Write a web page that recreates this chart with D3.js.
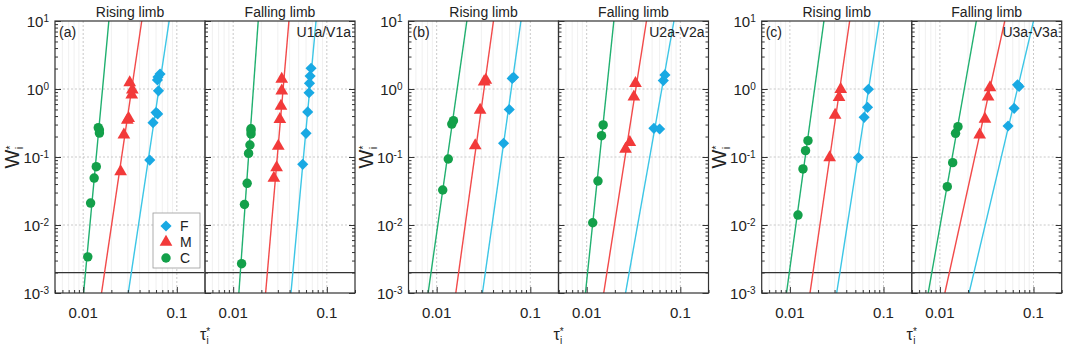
<!DOCTYPE html>
<html>
<head>
<meta charset="utf-8">
<script src="https://cdn.jsdelivr.net/npm/d3@7"></script>
<style>
  body { margin: 0; background: #fff; }
  text { font-family: "Liberation Sans", Arial, sans-serif; fill: #222; }
</style>
</head>
<body>
<svg width="1065" height="354"></svg>
<script>
// ---- data ----
var groupTags = ["(a)", "(b)", "(c)"];
var stationTags = ["U1a/V1a", "U2a-V2a", "U3a-V3a"];
var limbNames = ["Rising limb", "Falling limb"];
var classes = ["F", "M", "C"];
var wRange = [1e-3, 10];          // W* at which fitted lines enter/leave
var thresholdW = 0.002;
var xTicks = [0.01, 0.1];
var yTicks = [1e-3, 1e-2, 1e-1, 1, 10];

// tau* where each fit line crosses W*=1e-3 and W*=10  [group][limb][class]
var fitLines = [
  [ { F: [0.0303, 0.0828], M: [0.0157, 0.0422], C: [0.0101, 0.0188] },
    { F: [0.0414, 0.0767], M: [0.0222, 0.0394], C: [0.0115, 0.0185] } ],
  [ { F: [0.0308, 0.0794], M: [0.0160, 0.0404], C: [0.0081, 0.0210] },
    { F: [0.0260, 0.0855], M: [0.0152, 0.0435], C: [0.0097, 0.0195] } ],
  [ { F: [0.0316, 0.0900], M: [0.0164, 0.0435], C: [0.0092, 0.0231] },
    { F: [0.0205, 0.1000], M: [0.0113, 0.0493], C: [0.0075, 0.0245] } ]
];

// observed points [tau*, W*]
var aRiseF = [[0.0514, 0.090], [0.0557, 0.32], [0.0600, 0.45], [0.0625, 0.43], [0.0637, 0.94], [0.0621, 1.36], [0.0630, 1.50], [0.0662, 1.66]];
var aRiseM = [[0.0251, 0.061], [0.0272, 0.211], [0.0296, 0.35], [0.0306, 0.37], [0.0330, 0.82], [0.0335, 0.97], [0.0314, 1.24]];
var aRiseC = [[0.0112, 0.0034], [0.0120, 0.021], [0.0131, 0.049], [0.0138, 0.072], [0.0145, 0.27], [0.0149, 0.225], [0.0149, 0.25]];
var aFallF = [[0.0679, 2.02], [0.0663, 1.55], [0.0653, 1.21], [0.0646, 0.88], [0.0625, 0.46], [0.0600, 0.223], [0.0553, 0.078]];
var aFallM = [[0.0330, 1.40], [0.0330, 0.94], [0.0324, 0.56], [0.0315, 0.358], [0.0303, 0.145], [0.0291, 0.070], [0.0272, 0.049]];
var aFallC = [[0.0123, 0.0027], [0.0132, 0.020], [0.0141, 0.041], [0.0146, 0.113], [0.0151, 0.15], [0.0155, 0.218], [0.0155, 0.244], [0.0155, 0.26]];

var bRiseF = [[0.0518, 0.159], [0.0596, 0.50], [0.0663, 1.49], [0.0640, 1.43]];
var bRiseM = [[0.0258, 0.147], [0.0291, 0.49], [0.0321, 1.28], [0.0335, 1.35]];
var bRiseC = [[0.0116, 0.0327], [0.0133, 0.0935], [0.0145, 0.305], [0.0151, 0.342]];
var bFallF = [[0.0522, 0.264], [0.0601, 0.258], [0.0658, 1.33], [0.0685, 1.61]];
var bFallM = [[0.0260, 0.131], [0.0289, 0.164], [0.0319, 0.77], [0.0332, 1.21]];
var bFallC = [[0.0116, 0.0108], [0.0132, 0.0444], [0.0144, 0.206], [0.0150, 0.296]];

var cRiseF = [[0.0540, 0.098], [0.0621, 0.383], [0.0675, 0.537], [0.0690, 0.99]];
var cRiseM = [[0.0266, 0.098], [0.0304, 0.415], [0.0335, 0.753], [0.0349, 0.99]];
var cRiseC = [[0.0122, 0.0140], [0.0138, 0.0667], [0.0147, 0.124], [0.0156, 0.174]];
var cFallF = [[0.0535, 0.286], [0.0621, 0.52], [0.0675, 1.15], [0.0702, 1.09]];
var cFallM = [[0.0266, 0.211], [0.0303, 0.362], [0.0327, 0.77], [0.0343, 1.05]];
var cFallC = [[0.0120, 0.0366], [0.0137, 0.0826], [0.0147, 0.223], [0.0156, 0.279]];

var points = [
  [ { F: aRiseF, M: aRiseM, C: aRiseC }, { F: aFallF, M: aFallM, C: aFallC } ],
  [ { F: bRiseF, M: bRiseM, C: bRiseC }, { F: bFallF, M: bFallM, C: bFallC } ],
  [ { F: cRiseF, M: cRiseM, C: cRiseC }, { F: cFallF, M: cFallM, C: cFallC } ]
];

// ---- styles ----
var markColor = { F: "#19a9e3", M: "#f23a3a", C: "#13a04a" };
var lineColor = { F: "#3cc6e6", M: "#f24a4a", C: "#20b070" };
var symbolType = { F: d3.symbolSquare, M: d3.symbolTriangle, C: d3.symbolCircle };
var symbolSize = { F: 62, M: 70, C: 70 };
var symbolRot = { F: 45, M: 0, C: 0 };

var svg = d3.select("svg");
var groupLeft = [55, 408.5, 761.7],
    panelW = 150,
    plotTop = 21, plotBottom = 293;

var x = d3.scaleLog().domain([0.005, 0.2]).range([0, panelW]);
var y = d3.scaleLog().domain([1e-3, 10]).range([plotBottom, plotTop]);

function supLabel(sel, exp) {
  sel.append("tspan").text("10");
  sel.append("tspan").attr("dy", "-0.55em").attr("font-size", "10px").text(exp);
}

groupLeft.forEach(function(gx, gi) {
  var grp = svg.append("g").attr("transform", "translate(" + gx + ",0)");

  // y tick labels
  yTicks.forEach(function(t) {
    var e = Math.round(Math.log10(t));
    var tx = grp.append("text")
      .attr("x", -6).attr("y", y(t) + 6)
      .attr("text-anchor", "end")
      .attr("font-size", "15px");
    supLabel(tx, e);
  });

  // y axis label
  var yl = grp.append("text")
    .attr("transform", "translate(-36," + (plotTop + plotBottom) / 2 + ") rotate(-90)")
    .attr("text-anchor", "middle")
    .attr("font-size", "20px");
  yl.append("tspan").text("W");
  yl.append("tspan").attr("dy", "-0.5em").attr("font-size", "11px").text("*");
  yl.append("tspan").attr("dy", "0.9em").attr("dx", "-0.35em").attr("font-size", "11px").text("i");

  // x axis label
  var xl = grp.append("text")
    .attr("x", panelW).attr("y", 340)
    .attr("text-anchor", "middle")
    .attr("font-size", "16px");
  xl.append("tspan").text("\u03c4");
  xl.append("tspan").attr("dy", "-0.55em").attr("font-size", "10px").text("*");
  xl.append("tspan").attr("dy", "0.95em").attr("dx", "-0.35em").attr("font-size", "10px").text("i");

  limbNames.forEach(function(limb, li) {
    var p = grp.append("g").attr("transform", "translate(" + (li * panelW) + ",0)");
    var clipId = "clip" + gi + "_" + li;
    p.append("clipPath").attr("id", clipId)
      .append("rect").attr("x", 0).attr("y", plotTop).attr("width", panelW).attr("height", plotBottom - plotTop);

    // minor vertical grid
    var minor = x.ticks().filter(function(t) { return xTicks.indexOf(t) < 0; });
    p.append("g").selectAll("line").data(minor).enter().append("line")
      .attr("x1", function(d) { return x(d); }).attr("x2", function(d) { return x(d); })
      .attr("y1", plotTop).attr("y2", plotBottom)
      .attr("stroke", "#ececec").attr("stroke-width", 0.8);
    // major dotted grid
    p.append("g").selectAll("line").data(xTicks).enter().append("line")
      .attr("x1", function(d) { return x(d); }).attr("x2", function(d) { return x(d); })
      .attr("y1", plotTop).attr("y2", plotBottom)
      .attr("stroke", "#bbb").attr("stroke-dasharray", "2,2").attr("stroke-width", 0.8);
    p.append("g").selectAll("line").data(yTicks.slice(1, -1)).enter().append("line")
      .attr("x1", 0).attr("x2", panelW)
      .attr("y1", function(d) { return y(d); }).attr("y2", function(d) { return y(d); })
      .attr("stroke", "#bbb").attr("stroke-dasharray", "2,2").attr("stroke-width", 0.8);

    // threshold line
    p.append("line")
      .attr("x1", 0).attr("x2", panelW)
      .attr("y1", y(thresholdW)).attr("y2", y(thresholdW))
      .attr("stroke", "#333").attr("stroke-width", 1.3);

    // fit lines
    var fits = fitLines[gi][li];
    var lg = p.append("g").attr("clip-path", "url(#" + clipId + ")");
    classes.forEach(function(c) {
      lg.append("line")
        .attr("x1", x(fits[c][0])).attr("y1", y(wRange[0]))
        .attr("x2", x(fits[c][1])).attr("y2", y(wRange[1]))
        .attr("stroke", lineColor[c]).attr("stroke-width", 1.4);
    });

    // points
    var pts = points[gi][li];
    ["C", "M", "F"].forEach(function(c) {
      p.append("g").selectAll("path").data(pts[c]).enter().append("path")
        .attr("d", d3.symbol().type(symbolType[c]).size(symbolSize[c]))
        .attr("transform", function(d) {
          return "translate(" + x(d[0]) + "," + y(d[1]) + ") rotate(" + symbolRot[c] + ")";
        })
        .attr("fill", markColor[c]);
    });

    // axes (inward ticks)
    var bAx = p.append("g").attr("transform", "translate(0," + plotBottom + ")")
      .call(d3.axisBottom(x).tickValues(x.ticks()).tickSize(-3).tickFormat(""));
    bAx.selectAll(".tick line").filter(function(d) { return xTicks.indexOf(d) >= 0; }).attr("y2", -6);
    bAx.select(".domain").remove();
    var yMinor = y.ticks();
    var lAx = p.append("g").call(d3.axisLeft(y).tickValues(yMinor).tickSize(-3).tickFormat(""));
    lAx.selectAll(".tick line").filter(function(d) { return yTicks.indexOf(d) >= 0; }).attr("x2", 6);
    lAx.select(".domain").remove();
    if (li == 1) {
      var rAx = p.append("g").attr("transform", "translate(" + panelW + ",0)")
        .call(d3.axisRight(y).tickValues(yMinor).tickSize(-3).tickFormat(""));
      rAx.selectAll(".tick line").filter(function(d) { return yTicks.indexOf(d) >= 0; }).attr("x2", -6);
      rAx.select(".domain").remove();
    }
    p.selectAll(".tick line").attr("stroke", "#333");

    // frame
    p.append("rect").attr("x", 0).attr("y", plotTop).attr("width", panelW).attr("height", plotBottom - plotTop)
      .attr("fill", "none").attr("stroke", "#333").attr("stroke-width", 1.2);

    // x tick labels
    p.selectAll(".xlab").data(xTicks).enter().append("text")
      .attr("x", function(d) { return x(d); }).attr("y", 318)
      .attr("text-anchor", "middle").attr("font-size", "15px")
      .text(function(d) { return d; });

    // panel title
    p.append("text").attr("x", panelW / 2).attr("y", 17)
      .attr("text-anchor", "middle").attr("font-size", "14px").text(limb);

    if (li == 0) {
      p.append("text").attr("x", 4).attr("y", 37).attr("font-size", "14px").text(groupTags[gi]);
    } else {
      p.append("text").attr("x", panelW - 4).attr("y", 37).attr("text-anchor", "end")
        .attr("font-size", "14px").text(stationTags[gi]);
    }

    // legend only in first panel
    if (gi == 0 && li == 0) {
      var leg = p.append("g").attr("transform", "translate(98,213)");
      leg.append("rect").attr("width", 47).attr("height", 55)
        .attr("fill", "#fff").attr("stroke", "#999").attr("stroke-width", 0.8);
      classes.forEach(function(c, i) {
        leg.append("path")
          .attr("d", d3.symbol().type(symbolType[c]).size(symbolSize[c]))
          .attr("transform", "translate(13," + (13 + i * 16) + ") rotate(" + symbolRot[c] + ")")
          .attr("fill", markColor[c]);
        leg.append("text").attr("x", 27).attr("y", 18 + i * 16)
          .attr("font-size", "14px").text(c);
      });
    }
  });
});
</script>
</body>
</html>
